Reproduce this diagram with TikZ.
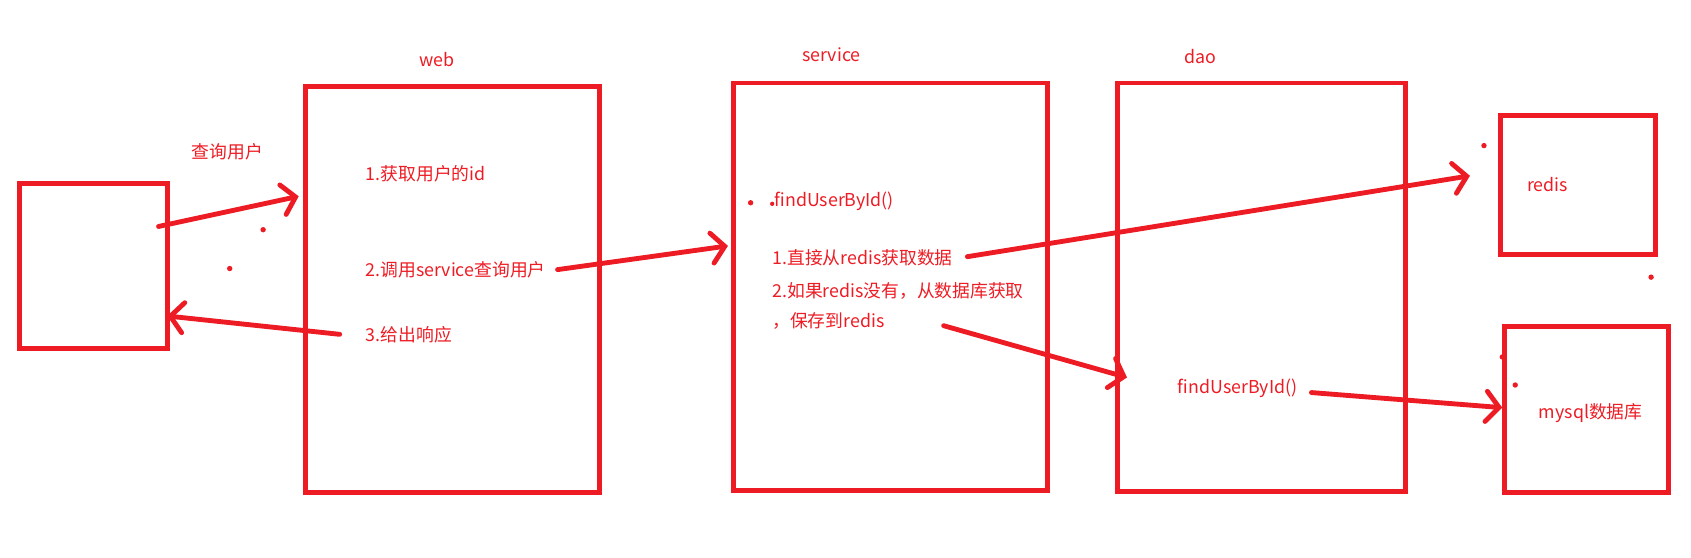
\documentclass[tikz,border=0pt]{standalone}
\usepackage{fontspec}
\setmainfont{Noto Sans CJK SC}
\usetikzlibrary{arrows.meta}
\definecolor{pred}{RGB}{237,28,36}
\begin{document}
\begin{tikzpicture}[x=1pt,y=-1pt,
  box/.style={draw=pred, line width=4.5pt, rectangle, inner sep=0pt},
  lbl/.style={text=pred, font=\fontsize{16.5}{18}\selectfont, inner sep=0pt},
  arr/.style={draw=pred, line width=4.5pt, line cap=round, -{Straight Barb[length=12pt,width=28pt,line cap=round]}},
  pdot/.style={circle, fill=pred, inner sep=0pt, minimum size=5pt}]
\useasboundingbox (0,0) rectangle (1568,517);
% boxes
\node[box, minimum width=137pt, minimum height=153pt] (client) at (86.5,246.5) {};
\node[box, minimum width=273pt, minimum height=377pt] (web) at (419.5,268.5) {};
\node[box, minimum width=291pt, minimum height=378pt] (service) at (825.5,266) {};
\node[box, minimum width=267pt, minimum height=379pt] (dao) at (1169.5,266.5) {};
\node[box, minimum width=144pt, minimum height=129pt] (redisbox) at (1463,171.5) {};
\node[box, minimum width=152pt, minimum height=154pt] (mysqlbox) at (1471,380) {};
% titles
\node[lbl] (tweb) at (405,55) {web};
\node[lbl] (tservice) at (771,51) {service};
\node[lbl] (tdao) at (1113,52) {dao};
% texts
\node[lbl] (query) at (211,141) {查询用户};
\node[lbl, anchor=west] (w1) at (339,161) {1.获取用户的id};
\node[lbl, anchor=west] (w2) at (339,250) {2.调用service查询用户};
\node[lbl, anchor=west] (w3) at (339,310) {3.给出响应};
\node[lbl, anchor=west] (s0) at (718,187) {findUserById()};
\node[lbl, anchor=west] (s1) at (716,239) {1.直接从redis获取数据};
\node[lbl, anchor=west] (s2) at (716,270) {2.如果redis没有，从数据库获取};
\node[lbl, anchor=west] (s3) at (716,298) {，保存到redis};
\node[lbl] (tredis) at (1435,171) {redis};
\node[lbl, anchor=west] (d1) at (1092,360) {findUserById()};
\node[lbl] (tmysql) at (1475,383) {mysql数据库};
% stray dots
\node[pdot] (p1) at (244,213) {};
\node[pdot] (p2) at (213,249) {};
\node[pdot] (p3) at (696,188) {};
\node[pdot, minimum size=4pt] (p4) at (716,189) {};
\node[pdot] (p5) at (1376,135) {};
\node[pdot] (p6) at (1531,257) {};
\node[pdot] (p7) at (1393,331) {};
\node[pdot] (p8) at (1405,357) {};
% arrow endpoints
\coordinate (a1s) at (147,210); \coordinate (a1e) at (277,182);
\coordinate (a2s) at (315,310); \coordinate (a2e) at (155,293);
\coordinate (a3s) at (517,250); \coordinate (a3e) at (675,228);
\coordinate (a4s) at (897,238); \coordinate (a4e) at (1363,163);
\coordinate (a5s) at (875,302); \coordinate (a5e) at (1045,350);
\coordinate (a6s) at (1216,364); \coordinate (a6e) at (1393,378);
\draw[arr] (a1s) -- (a1e);
\draw[arr] (a2s) -- (a2e);
\draw[arr] (a3s) -- (a3e);
\draw[arr] (a4s) -- (a4e);
\draw[arr] (a5s) -- (a5e);
\draw[arr] (a6s) -- (a6e);
\end{tikzpicture}
\end{document}
